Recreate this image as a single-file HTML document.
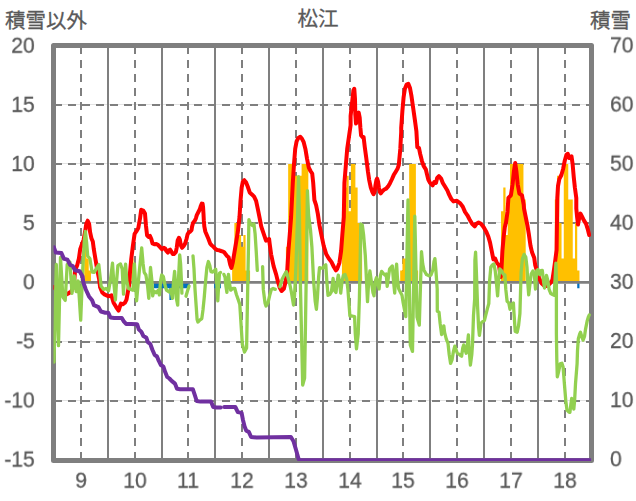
<!DOCTYPE html>
<html><head><meta charset="utf-8"><title>chart</title><style>
html,body{margin:0;padding:0;background:#fff}
body{width:636px;height:501px;position:relative;overflow:hidden;font-family:"Liberation Sans",sans-serif;color:#595959}
.t{position:absolute;font-size:22px;-webkit-text-stroke:0.3px #595959;line-height:24px;height:24px;white-space:nowrap;will-change:transform}
.l{text-align:right;left:0;width:34.7px;transform-origin:100% 50%}
.r{left:610.2px;transform-origin:0 50%}
.x{width:40px;text-align:center;transform-origin:50% 50%}

</style></head><body>
<svg width="636" height="501" viewBox="0 0 636 501" style="position:absolute;left:0;top:0">
<rect x="0" y="0" width="636" height="501" fill="#fff"/>
<g shape-rendering="crispEdges">
<line x1="54" y1="104.5" x2="592" y2="104.5" stroke="#e3e3e3" stroke-width="1"/>
<line x1="54" y1="105" x2="592" y2="105" stroke="#7f7f7f" stroke-width="2" stroke-dasharray="8 6"/>
<line x1="54" y1="163.5" x2="592" y2="163.5" stroke="#e3e3e3" stroke-width="1"/>
<line x1="54" y1="164" x2="592" y2="164" stroke="#7f7f7f" stroke-width="2" stroke-dasharray="8 6"/>
<line x1="54" y1="222.5" x2="592" y2="222.5" stroke="#e3e3e3" stroke-width="1"/>
<line x1="54" y1="223" x2="592" y2="223" stroke="#7f7f7f" stroke-width="2" stroke-dasharray="8 6"/>
<line x1="54" y1="341.5" x2="592" y2="341.5" stroke="#e3e3e3" stroke-width="1"/>
<line x1="54" y1="342" x2="592" y2="342" stroke="#7f7f7f" stroke-width="2" stroke-dasharray="8 6"/>
<line x1="54" y1="400.5" x2="592" y2="400.5" stroke="#e3e3e3" stroke-width="1"/>
<line x1="54" y1="401" x2="592" y2="401" stroke="#7f7f7f" stroke-width="2" stroke-dasharray="8 6"/>
<line x1="81" y1="46" x2="81" y2="460" stroke="#7f7f7f" stroke-width="2" stroke-dasharray="8 6"/>
<line x1="108" y1="46" x2="108" y2="460" stroke="#7f7f7f" stroke-width="2"/>
<line x1="135" y1="46" x2="135" y2="460" stroke="#7f7f7f" stroke-width="2" stroke-dasharray="8 6"/>
<line x1="162" y1="46" x2="162" y2="460" stroke="#7f7f7f" stroke-width="2"/>
<line x1="188" y1="46" x2="188" y2="460" stroke="#7f7f7f" stroke-width="2" stroke-dasharray="8 6"/>
<line x1="215" y1="46" x2="215" y2="460" stroke="#7f7f7f" stroke-width="2"/>
<line x1="242" y1="46" x2="242" y2="460" stroke="#7f7f7f" stroke-width="2" stroke-dasharray="8 6"/>
<line x1="269" y1="46" x2="269" y2="460" stroke="#7f7f7f" stroke-width="2"/>
<line x1="296" y1="46" x2="296" y2="460" stroke="#7f7f7f" stroke-width="2" stroke-dasharray="8 6"/>
<line x1="323" y1="46" x2="323" y2="460" stroke="#7f7f7f" stroke-width="2"/>
<line x1="350" y1="46" x2="350" y2="460" stroke="#7f7f7f" stroke-width="2" stroke-dasharray="8 6"/>
<line x1="377" y1="46" x2="377" y2="460" stroke="#7f7f7f" stroke-width="2"/>
<line x1="403" y1="46" x2="403" y2="460" stroke="#7f7f7f" stroke-width="2" stroke-dasharray="8 6"/>
<line x1="430" y1="46" x2="430" y2="460" stroke="#7f7f7f" stroke-width="2"/>
<line x1="457" y1="46" x2="457" y2="460" stroke="#7f7f7f" stroke-width="2" stroke-dasharray="8 6"/>
<line x1="484" y1="46" x2="484" y2="460" stroke="#7f7f7f" stroke-width="2"/>
<line x1="511" y1="46" x2="511" y2="460" stroke="#7f7f7f" stroke-width="2" stroke-dasharray="8 6"/>
<line x1="538" y1="46" x2="538" y2="460" stroke="#7f7f7f" stroke-width="2"/>
<line x1="565" y1="46" x2="565" y2="460" stroke="#7f7f7f" stroke-width="2" stroke-dasharray="8 6"/>
</g>
<defs><clipPath id="cp"><rect x="53.5" y="45.5" width="537.6" height="415.4"/></clipPath></defs>
<path d="M84.25,282.30 L84.25,246.78 L86.49,246.78 L86.49,258.62 L88.73,258.62 L88.73,270.46 L90.97,270.46 L90.97,282.30Z M131.31,282.30 L131.31,258.62 L133.55,258.62 L133.55,282.30Z M232.14,282.30 L232.14,258.62 L234.38,258.62 L234.38,223.10 L236.63,223.10 L236.63,223.10 L238.87,223.10 L238.87,234.94 L241.11,234.94 L241.11,246.78 L243.35,246.78 L243.35,234.94 L245.59,234.94 L245.59,270.46 L247.83,270.46 L247.83,270.46 L250.07,270.46 L250.07,282.30Z M285.92,282.30 L285.92,246.78 L288.16,246.78 L288.16,163.90 L290.40,163.90 L290.40,163.90 L292.65,163.90 L292.65,163.90 L294.89,163.90 L294.89,175.74 L297.13,175.74 L297.13,175.74 L299.37,175.74 L299.37,175.74 L301.61,175.74 L301.61,163.90 L303.85,163.90 L303.85,163.90 L306.09,163.90 L306.09,163.90 L308.33,163.90 L308.33,282.30Z M341.94,282.30 L341.94,211.26 L344.18,211.26 L344.18,187.58 L346.42,187.58 L346.42,175.74 L348.67,175.74 L348.67,211.26 L350.91,211.26 L350.91,163.90 L353.15,163.90 L353.15,163.90 L355.39,163.90 L355.39,187.58 L357.63,187.58 L357.63,223.10 L359.87,223.10 L359.87,223.10 L362.11,223.10 L362.11,282.30Z M400.20,282.30 L400.20,270.46 L402.44,270.46 L402.44,258.62 L404.69,258.62 L404.69,258.62 L406.93,258.62 L406.93,258.62 L409.17,258.62 L409.17,163.90 L411.41,163.90 L411.41,163.90 L413.65,163.90 L413.65,163.90 L415.89,163.90 L415.89,270.46 L418.13,270.46 L418.13,282.30Z M501.04,282.30 L501.04,211.26 L503.28,211.26 L503.28,187.58 L505.52,187.58 L505.52,234.94 L507.76,234.94 L507.76,199.42 L510.00,199.42 L510.00,163.90 L512.24,163.90 L512.24,163.90 L514.48,163.90 L514.48,163.90 L516.73,163.90 L516.73,163.90 L518.97,163.90 L518.97,163.90 L521.21,163.90 L521.21,163.90 L523.45,163.90 L523.45,199.42 L525.69,199.42 L525.69,282.30Z M554.82,282.30 L554.82,199.42 L557.06,199.42 L557.06,175.74 L559.30,175.74 L559.30,223.10 L561.54,223.10 L561.54,258.62 L563.78,258.62 L563.78,163.90 L566.02,163.90 L566.02,163.90 L568.26,163.90 L568.26,199.42 L570.50,199.42 L570.50,199.42 L572.75,199.42 L572.75,258.62 L574.99,258.62 L574.99,223.10 L577.23,223.10 L577.23,270.46 L579.47,270.46 L579.47,282.30Z" fill="#ffc000"/>
<path d="M153.72,282.30 L153.72,288.22 L155.96,288.22 L155.96,288.22 L158.20,288.22 L158.20,288.22 L160.44,288.22 L160.44,288.22 L162.68,288.22 L162.68,288.22 L164.92,288.22 L164.92,288.22 L167.16,288.22 L167.16,288.22 L169.40,288.22 L169.40,300.06 L171.64,300.06 L171.64,294.14 L173.88,294.14 L173.88,288.22 L176.12,288.22 L176.12,288.22 L178.36,288.22 L178.36,288.22 L180.61,288.22 L180.61,288.22 L182.85,288.22 L182.85,288.22 L185.09,288.22 L185.09,288.22 L187.33,288.22 L187.33,288.22 L189.57,288.22 L189.57,282.30Z M214.22,282.30 L214.22,288.22 L216.46,288.22 L216.46,288.22 L218.70,288.22 L218.70,288.22 L220.94,288.22 L220.94,282.30Z M577.23,282.30 L577.23,288.22 L579.47,288.22 L579.47,282.30Z" fill="#0070c0"/>
<line x1="54.0" y1="282.35" x2="592.0" y2="282.35" stroke="#7f7f7f" stroke-width="2.8"/>
<rect x="53.5" y="45.5" width="538" height="415" fill="none" stroke="#7f7f7f" stroke-width="5" stroke-linejoin="round"/>
<path d="M53.7,287.2 L58.5,291.5 L64.4,295.4 L67.8,293.7 L71.2,291.5 L73.8,286.4 L75.1,270.4 L77.2,265.3 L78.9,258.5 L80.2,249.2 L81.9,244.4 L83.6,239.9 L85.0,232.2 L86.3,223.8 L87.7,220.7 L89.1,223.8 L90.1,232.2 L91.4,238.2 L92.8,241.6 L93.8,249.2 L95.5,259.4 L97.2,269.6 L99.2,279.7 L100.1,287.2 L102.3,292.5 L104.5,294.4 L108.3,296.3 L111.4,295.4 L113.6,302.7 L116.3,307.3 L118.6,310.7 L120.1,305.8 L120.9,303.6 L122.7,304.3 L125.0,302.7 L126.5,299.7 L127.7,292.9 L129.2,284.5 L129.8,274.6 L131.2,259.4 L132.9,245.8 L134.6,233.9 L136.3,231.4 L138.3,228.0 L140.0,218.7 L141.2,209.8 L143.2,210.6 L145.0,213.6 L146.0,226.0 L147.1,235.5 L148.5,237.0 L150.0,235.9 L151.3,239.0 L152.5,243.4 L154.4,244.3 L156.3,244.1 L158.2,245.1 L160.1,247.2 L161.9,249.3 L163.8,247.8 L165.1,248.5 L166.4,251.0 L167.9,252.6 L169.1,250.3 L170.1,249.7 L171.4,251.6 L172.6,253.9 L173.9,254.1 L175.8,252.2 L176.7,247.8 L177.7,240.3 L178.9,237.8 L179.9,239.7 L180.8,245.3 L182.1,247.8 L183.7,245.9 L185.2,243.4 L186.5,239.0 L187.5,234.6 L188.7,232.5 L190.3,231.5 L191.5,230.2 L192.1,226.4 L193.0,222.9 L194.7,220.8 L195.9,218.3 L196.8,215.1 L198.4,212.0 L199.7,209.5 L200.9,205.7 L201.8,203.6 L202.6,203.8 L203.1,207.6 L203.5,213.9 L203.8,220.2 L204.3,226.4 L205.3,231.5 L206.9,235.3 L208.5,239.0 L210.1,243.4 L211.6,245.3 L213.5,246.8 L215.4,248.8 L217.3,250.1 L219.2,250.3 L221.1,251.0 L223.0,251.6 L224.2,252.2 L225.5,254.1 L227.0,256.0 L228.6,257.3 L230.2,264.5 L231.4,267.9 L232.7,262.8 L234.4,252.6 L236.1,242.4 L237.8,232.2 L239.5,217.0 L240.5,200.9 L241.7,187.3 L242.9,181.4 L244.3,180.2 L246.0,182.2 L247.7,186.5 L249.7,192.4 L251.9,194.4 L254.1,196.7 L256.1,200.9 L257.9,209.4 L259.6,217.9 L261.2,226.3 L266.0,240.7 L269.1,239.0 L269.7,244.1 L271.1,254.3 L273.6,266.2 L276.2,274.6 L277.6,280.4 L279.6,287.2 L281.6,291.0 L283.8,288.9 L285.5,282.1 L286.7,272.0 L287.2,271.3 L288.4,250.9 L289.8,233.9 L291.1,217.0 L292.8,182.9 L294.0,164.2 L295.2,148.9 L296.6,141.3 L298.3,137.9 L300.3,136.7 L302.0,138.8 L303.7,142.2 L305.4,148.9 L307.1,159.1 L308.8,167.6 L310.5,171.0 L312.2,173.5 L313.2,182.9 L314.4,200.0 L316.1,205.1 L317.8,213.6 L319.5,225.4 L321.2,233.9 L323.7,245.8 L326.3,254.3 L328.8,258.5 L331.4,261.9 L333.9,267.0 L336.0,270.4 L337.3,268.7 L339.4,262.8 L341.1,250.9 L342.4,233.9 L343.8,217.0 L344.4,182.9 L345.8,165.9 L347.2,148.9 L348.9,137.1 L350.6,125.2 L350.6,116.0 L352.3,100.7 L353.4,90.5 L354.3,88.8 L355.0,99.0 L355.3,114.3 L356.0,123.6 L357.4,117.7 L358.7,112.6 L359.7,117.7 L360.4,127.9 L361.1,135.5 L363.3,138.0 L363.6,137.1 L364.8,147.2 L366.2,157.4 L367.9,171.3 L369.2,180.1 L370.8,187.6 L372.4,192.0 L373.6,194.2 L374.6,192.0 L375.5,185.1 L376.4,180.1 L377.1,178.6 L378.0,181.4 L378.9,187.6 L379.9,192.0 L380.8,193.3 L382.4,191.2 L384.3,189.5 L386.2,188.6 L388.1,186.4 L390.0,183.2 L391.8,179.5 L393.7,175.1 L395.6,171.9 L397.5,168.8 L398.8,165.0 L400.3,148.9 L401.2,132.0 L401.2,127.9 L402.4,110.9 L403.6,97.3 L404.9,88.8 L406.6,84.6 L408.3,83.8 L410.0,88.0 L411.4,95.6 L413.1,107.5 L414.8,119.4 L416.4,131.3 L417.3,147.2 L419.0,148.1 L420.2,154.0 L421.9,160.8 L423.6,165.9 L425.8,169.3 L427.0,174.4 L428.3,179.5 L430.0,182.9 L432.6,185.4 L434.3,182.0 L436.0,182.9 L437.2,177.8 L438.9,176.1 L441.1,178.6 L442.8,182.9 L445.3,187.1 L447.4,190.5 L449.1,194.7 L451.3,199.0 L453.5,201.4 L456.9,200.8 L460.3,203.4 L462.8,206.8 L465.0,211.9 L467.4,215.3 L469.6,219.5 L472.1,223.8 L474.7,226.3 L476.4,223.8 L478.6,222.6 L481.0,223.8 L483.7,227.2 L486.1,231.4 L488.3,236.5 L490.0,242.4 L491.7,250.9 L493.4,259.4 L495.1,258.5 L496.8,262.8 L499.0,265.3 L500.6,277.0 L501.5,268.5 L502.4,250.9 L503.6,237.3 L504.8,227.2 L506.1,222.1 L507.5,211.9 L508.4,197.9 L510.9,195.3 L512.6,184.3 L513.8,172.4 L515.2,163.1 L516.5,172.4 L517.7,184.3 L519.4,193.6 L522.0,195.3 L523.7,204.7 L524.0,208.5 L525.7,217.0 L527.4,225.4 L528.8,233.9 L530.5,245.8 L532.1,252.6 L534.2,257.7 L535.2,265.1 L539.0,277.7 L541.5,283.3 L544.0,285.6 L545.9,286.1 L548.4,285.2 L550.9,282.5 L552.5,279.6 L554.1,268.9 L555.3,260.0 L556.6,250.0 L557.3,197.9 L558.0,186.0 L559.3,179.2 L561.4,175.0 L563.1,169.0 L564.8,160.5 L566.5,154.6 L567.8,153.8 L569.2,158.0 L570.4,157.2 L571.5,156.3 L572.6,163.9 L573.8,177.5 L574.9,187.7 L576.3,197.9 L576.3,208.5 L577.1,217.0 L578.0,224.6 L579.4,217.0 L580.5,213.6 L582.2,217.0 L583.9,220.4 L586.1,223.8 L587.9,229.7 L589.2,235.0" clip-path="url(#cp)" fill="none" stroke="#ff0000" stroke-width="4" stroke-linejoin="round" stroke-linecap="round"/>
<path d="M54.0,362.0 L56.3,264.5 L58.5,345.6 L60.5,257.3 L62.9,297.0 L65.2,300.4 L67.2,264.5 L69.9,262.0 L72.0,293.4 L74.3,275.9 L76.2,291.6 L78.2,281.0 L80.7,320.1 L82.8,268.0 L84.2,242.0 L85.4,231.5 L86.6,242.4 L87.7,256.0 L89.9,258.5 L92.1,272.0 L94.3,272.3 L96.6,268.0 L98.8,264.6 L101.1,286.0 L103.5,289.4 L106.0,288.5 L108.6,290.7 L110.3,280.9 L112.5,263.2 L113.7,280.9 L115.4,300.0 L116.6,280.9 L117.9,265.6 L120.5,263.9 L122.2,269.0 L123.5,294.1 L124.7,272.4 L125.6,264.1 L126.8,280.9 L128.4,288.5 L130.7,289.4 L132.9,290.2 L134.4,263.8 L136.6,300.9 L139.2,272.4 L141.7,248.0 L143.1,263.9 L144.2,272.4 L145.9,275.0 L147.6,286.0 L148.8,298.3 L150.5,267.5 L151.9,280.9 L152.7,295.8 L153.9,291.1 L156.1,292.8 L158.0,290.4 L159.4,294.9 L160.6,280.9 L161.7,275.0 L163.4,276.7 L164.8,284.3 L166.5,290.2 L169.0,291.9 L170.7,289.5 L172.4,298.3 L173.6,280.9 L174.6,271.4 L175.5,284.3 L176.3,297.9 L177.7,305.1 L178.4,280.9 L179.7,254.8 L180.6,263.9 L181.4,280.9 L181.9,293.1" clip-path="url(#cp)" fill="none" stroke="#92d050" stroke-width="3.3" stroke-linejoin="round" stroke-linecap="round"/>
<path d="M186.0,296.2 L187.7,290.2 L189.1,286.0" clip-path="url(#cp)" fill="none" stroke="#92d050" stroke-width="3.3" stroke-linejoin="round" stroke-linecap="round"/>
<path d="M193.0,255.8 L194.0,269.0 L195.0,289.4 L196.2,306.4 L197.1,319.5 L197.9,322.0 L199.6,320.3 L201.8,318.6 L203.0,309.7 L204.2,297.9 L205.6,280.9 L206.9,267.3 L208.4,261.5 L209.8,265.6 L211.0,271.6 L212.7,272.1 L214.4,270.7 L215.7,269.2 L216.6,280.9 L217.8,300.9 L218.6,286.0 L219.5,273.3 L220.5,272.4" clip-path="url(#cp)" fill="none" stroke="#92d050" stroke-width="3.3" stroke-linejoin="round" stroke-linecap="round"/>
<path d="M223.9,274.4 L225.1,277.5 L225.9,286.0 L226.9,292.4 L227.6,280.9 L228.5,274.3 L229.3,282.6 L230.7,290.2 L232.7,288.5 L234.8,288.5 L236.4,294.5 L238.2,299.6 L239.8,304.6 L242.3,344.0 L244.5,352.1 L246.6,348.0 L248.6,240.0 L248.9,219.7 L250.5,223.8 L252.2,225.4 L253.9,223.8 L255.1,233.9 L256.2,250.9 L257.3,270.4" clip-path="url(#cp)" fill="none" stroke="#92d050" stroke-width="3.3" stroke-linejoin="round" stroke-linecap="round"/>
<path d="M262.6,266.6 L263.3,289.4 L265.0,302.9 L266.0,306.0 L268.0,302.9 L269.7,295.3 L271.4,289.4 L273.1,288.5 L275.3,289.4" clip-path="url(#cp)" fill="none" stroke="#92d050" stroke-width="3.3" stroke-linejoin="round" stroke-linecap="round"/>
<path d="M279.9,286.8 L282.1,279.2 L284.3,275.0 L286.4,271.7 L287.7,276.7 L289.8,284.3 L291.5,292.8 L293.5,305.1 L294.5,296.2 L295.7,272.4 L296.6,247.0 L297.6,215.0 L298.5,176.6 L299.4,215.0 L300.5,289.0 L302.7,385.0 L304.6,378.0 L305.4,330.0 L306.4,265.0 L307.4,190.7 L308.6,215.0 L310.5,230.0 L311.9,247.0 L313.6,280.9 L315.2,301.3 L316.4,309.3 L317.4,297.9 L318.6,277.5 L319.5,267.7 L321.2,268.2 L322.9,268.2 L324.6,265.6 L325.8,264.8 L326.8,280.9 L328.0,295.3 L329.7,294.5 L331.4,291.9 L333.1,278.5 L334.3,290.2 L336.0,292.4 L337.3,280.9 L338.3,275.1 L339.4,280.9 L340.7,293.2 L342.1,280.9 L343.3,275.5 L345.0,274.4 L346.7,279.2 L347.9,289.4 L349.2,306.4 L349.9,316.0 L352.1,316.0 L354.6,316.5 L355.3,333.9 L356.5,348.8 L358.2,333.9 L359.4,298.0 L360.1,264.0 L360.8,224.0 L362.3,225.0 L363.6,235.0 L365.3,255.4 L366.5,280.9 L367.5,301.7 L368.7,280.9 L369.9,270.9 L371.3,280.9 L373.0,292.8 L374.0,295.8 L375.4,280.9 L376.4,277.7 L377.7,282.6 L379.1,289.0 L380.4,275.8 L381.6,271.4 L383.3,273.3 L385.0,275.0 L386.2,274.1 L387.2,286.4 L388.4,277.5 L389.6,269.0 L391.0,267.3 L392.3,266.0 L393.5,280.9 L394.7,293.2 L395.7,272.4 L396.6,264.1 L397.4,277.5 L398.6,288.5 L400.3,291.9 L402.0,295.3 L403.2,302.9 L405.8,316.6 L408.0,199.8 L410.3,345.0 L412.5,351.4 L414.8,216.2 L417.0,317.0 L419.3,325.1 L421.5,251.7 L422.7,263.9 L424.0,270.2 L426.5,274.6 L429.0,275.8 L430.9,275.2 L432.8,270.2 L434.0,261.4 L434.9,258.6 L435.9,270.2 L437.2,289.0 L437.3,311.2 L439.0,312.1 L440.2,323.9 L441.6,334.6 L442.9,330.7 L443.8,325.8 L444.6,332.4 L446.3,339.2 L448.0,343.4 L449.2,354.5 L450.6,363.4 L452.1,359.6 L453.5,351.1 L454.8,346.1 L456.0,349.4 L457.2,353.1 L458.9,354.1 L460.3,355.3 L461.6,356.2 L462.8,347.7 L463.7,344.9 L465.0,349.4 L466.2,353.2 L467.4,344.3 L468.4,334.8 L469.1,349.4 L470.4,365.1 L471.8,354.5 L472.5,344.3 L473.5,315.4 L474.7,298.5 L474.9,260.5 L475.6,252.2 L476.4,272.4 L477.6,307.0 L478.6,327.3 L479.4,335.4 L480.3,329.0 L481.0,323.1 L482.3,321.9 L484.4,320.5 L485.7,315.4 L487.4,308.7 L488.8,303.6 L489.6,280.9 L490.8,267.3 L492.5,264.8 L493.9,263.9 L495.2,270.7 L496.4,282.6 L497.6,295.8 L498.6,280.9 L499.8,269.0 L501.5,270.7 L503.2,274.1 L504.9,275.0 L505.8,289.4 L507.1,301.3 L508.8,302.9 L510.0,309.3 L511.7,304.6 L513.4,302.9 L513.8,310.2 L515.2,331.4 L517.2,332.2 L518.6,325.4 L519.9,313.6 L521.1,272.4 L522.4,258.8 L524.1,254.4 L525.8,257.1 L527.0,267.3 L527.9,284.3 L528.7,294.9 L529.9,284.3 L531.2,274.1 L532.9,270.9 L534.3,274.1 L535.5,289.0 L536.7,270.7 L538.0,269.4 L539.7,274.6 L541.1,270.7 L542.3,270.4 L543.5,280.9 L544.5,288.1 L545.7,280.9 L546.5,275.4 L547.9,280.9 L549.1,289.4 L550.8,293.6 L552.5,294.5 L554.2,295.3 L555.0,280.9 L555.9,263.2 L556.4,280.9 L556.4,333.9 L556.8,359.4 L557.3,376.8 L558.5,372.1 L560.2,363.9 L561.9,363.2 L563.1,367.0 L564.4,383.9 L565.8,400.9 L567.0,410.2 L568.7,411.9 L569.9,412.4 L570.9,404.3 L571.7,398.5 L572.6,404.3 L573.8,409.0 L574.6,400.9 L575.5,383.9 L577.1,363.6 L577.5,350.9 L578.3,339.0 L579.7,333.9 L580.5,332.2 L581.7,336.5 L583.1,340.3 L584.5,336.5 L585.6,328.8 L587.3,320.4 L588.5,316.6 L589.3,314.9" clip-path="url(#cp)" fill="none" stroke="#92d050" stroke-width="3.3" stroke-linejoin="round" stroke-linecap="round"/>
<path d="M53.9,247.4 L55.7,252.4 L61.4,253.1 L64.0,258.8 L67.4,259.6 L70.1,264.9 L72.7,266.0 L75.0,270.2 L79.6,271.3 L82.6,276.6 L83.3,282.5 L85.8,289.5 L89.0,296.4 L92.1,300.2 L94.0,305.2 L98.4,307.1 L100.9,311.5 L105.3,312.7 L108.2,312.7 L110.5,317.5 L114.2,318.0 L121.8,318.0 L124.0,321.7 L126.1,323.9 L131.2,323.9 L137.1,324.2 L138.8,329.3 L141.4,331.9 L143.4,336.1 L146.4,337.8 L147.8,342.1 L150.2,343.8 L152.4,349.7 L154.6,354.8 L157.0,356.5 L158.7,360.7 L160.9,365.0 L163.4,366.7 L165.1,371.8 L167.2,376.9 L169.4,378.5 L171.9,381.1 L175.0,383.6 L177.0,388.8 L180.1,389.2 L192.8,389.2 L194.5,394.2 L196.7,401.0 L200.4,401.6 L211.0,401.6 L213.2,407.0 L216.6,407.5 L220.8,407.5" clip-path="url(#cp)" fill="none" stroke="#7030a0" stroke-width="4" stroke-linejoin="round" stroke-linecap="round"/>
<path d="M224.2,407.0 L235.3,407.0 L237.8,412.1 L241.6,412.9 L242.9,419.7 L244.6,426.5 L246.3,430.7 L248.8,431.9 L251.1,437.0 L256.5,437.5 L290.9,437.0 L293.5,441.2 L296.0,449.7 L298.6,459.0 L299.4,460.2 L592.0,460.2" clip-path="url(#cp)" fill="none" stroke="#7030a0" stroke-width="4" stroke-linejoin="round" stroke-linecap="round"/>
<text x="4.9" y="27.8" font-size="20.5" fill="#595959" stroke="#595959" stroke-width="0.3" font-family="&quot;Liberation Sans&quot;, &quot;Noto Sans CJK JP&quot;, sans-serif">積雪以外</text>
<text x="318" y="26.2" font-size="20.5" fill="#595959" stroke="#595959" stroke-width="0.3" text-anchor="middle" font-family="&quot;Liberation Sans&quot;, &quot;Noto Sans CJK JP&quot;, sans-serif">松江</text>
<text x="590" y="27.6" font-size="20.5" fill="#595959" stroke="#595959" stroke-width="0.3" font-family="&quot;Liberation Sans&quot;, &quot;Noto Sans CJK JP&quot;, sans-serif">積雪</text>
</svg>
<div class="t l" style="top:0;transform:translateY(33.70px) scaleX(0.96)">20</div>
<div class="t l" style="top:0;transform:translateY(92.83px) scaleX(0.96)">15</div>
<div class="t l" style="top:0;transform:translateY(151.96px) scaleX(0.96)">10</div>
<div class="t l" style="top:0;transform:translateY(211.09px) scaleX(0.96)">5</div>
<div class="t l" style="top:0;transform:translateY(270.22px) scaleX(0.96)">0</div>
<div class="t l" style="top:0;transform:translateY(329.35px) scaleX(0.96)">-5</div>
<div class="t l" style="top:0;transform:translateY(388.48px) scaleX(0.96)">-10</div>
<div class="t l" style="top:0;transform:translateY(447.61px) scaleX(0.96)">-15</div>
<div class="t r" style="top:0;transform:translateY(33.40px) scaleX(0.96)">70</div>
<div class="t r" style="top:0;transform:translateY(92.52px) scaleX(0.96)">60</div>
<div class="t r" style="top:0;transform:translateY(151.64px) scaleX(0.96)">50</div>
<div class="t r" style="top:0;transform:translateY(210.76px) scaleX(0.96)">40</div>
<div class="t r" style="top:0;transform:translateY(269.88px) scaleX(0.96)">30</div>
<div class="t r" style="top:0;transform:translateY(329.00px) scaleX(0.96)">20</div>
<div class="t r" style="top:0;transform:translateY(388.12px) scaleX(0.96)">10</div>
<div class="t r" style="top:0;transform:translateY(447.24px) scaleX(0.96)">0</div>
<div class="t x" style="left:61px;top:0;transform:translateY(468.70px) scaleX(0.96)">9</div>
<div class="t x" style="left:115px;top:0;transform:translateY(468.70px) scaleX(0.96)">10</div>
<div class="t x" style="left:168px;top:0;transform:translateY(468.70px) scaleX(0.96)">11</div>
<div class="t x" style="left:222px;top:0;transform:translateY(468.70px) scaleX(0.96)">12</div>
<div class="t x" style="left:276px;top:0;transform:translateY(468.70px) scaleX(0.96)">13</div>
<div class="t x" style="left:330px;top:0;transform:translateY(468.70px) scaleX(0.96)">14</div>
<div class="t x" style="left:383px;top:0;transform:translateY(468.70px) scaleX(0.96)">15</div>
<div class="t x" style="left:437px;top:0;transform:translateY(468.70px) scaleX(0.96)">16</div>
<div class="t x" style="left:491px;top:0;transform:translateY(468.70px) scaleX(0.96)">17</div>
<div class="t x" style="left:545px;top:0;transform:translateY(468.70px) scaleX(0.96)">18</div>
</body></html>
